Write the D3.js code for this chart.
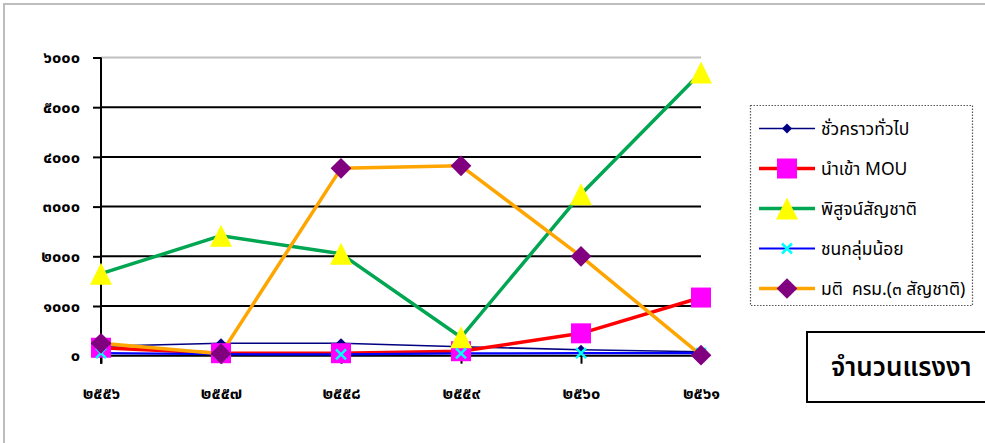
<!DOCTYPE html>
<html>
<head>
<meta charset="utf-8">
<script src="https://cdn.jsdelivr.net/npm/d3@7/dist/d3.min.js"></script>
<style>
  html, body { margin: 0; padding: 0; background: #fff; overflow: hidden; }
  svg { display: block; font-family: Tahoma, "Noto Sans Thai", "Leelawadee UI", "Noto Sans", sans-serif; }
</style>
</head>
<body>
<svg id="chart" width="985" height="443"></svg>
<script>
// ---- data ----
const categories = ["๒๕๕๖", "๒๕๕๗", "๒๕๕๘", "๒๕๕๙", "๒๕๖๐", "๒๕๖๑"];
const yTickValues = [0, 1000, 2000, 3000, 4000, 5000, 6000];
const yTickLabels = ["๐", "๑๐๐๐", "๒๐๐๐", "๓๐๐๐", "๔๐๐๐", "๕๐๐๐", "๖๐๐๐"];
const seriesNames = ["ชั่วคราวทั่วไป", "นำเข้า MOU", "พิสูจน์สัญชาติ", "ชนกลุ่มน้อย", "มติ  ครม.(๓ สัญชาติ)"];
const temporaryGeneral = [190, 250, 250, 180, 120, 80];
const importMOU = [160, 50, 50, 90, 450, 1170];
const nationalityVerified = [1650, 2415, 2050, 370, 3250, 5700];
const minorityGroups = [50, 30, 25, 45, 50, 50];
const cabinetResolution = [250, 40, 3770, 3820, 2000, 10];
const titleText = "จำนวนแรงงา";

// ---- layout ----
const svg = d3.select("#chart");
const x = d3.scalePoint().domain(categories).range([101, 701]);
const y = d3.scaleLinear().domain([0, 6000]).range([355.7, 57.5]);

// outer frame
svg.append("rect").attr("x", 4).attr("y", 4).attr("width", 1100).attr("height", 600)
  .attr("fill", "none").attr("stroke", "#bdbdbd").attr("stroke-width", 2);

// gridlines
const grid = svg.append("g");
yTickValues.forEach(v => {
  grid.append("line").attr("x1", 101).attr("x2", 701).attr("y1", y(v)).attr("y2", y(v))
    .attr("stroke", v === 6000 ? "#c0c0c0" : "#000").attr("stroke-width", 2);
});

// y axis
const yAxis = d3.axisLeft(y).tickValues(yTickValues)
  .tickFormat((d, i) => yTickLabels[i]).tickSize(8).tickPadding(13);
const gy = svg.append("g").attr("transform", "translate(101,0)").call(yAxis);
gy.select(".domain").attr("stroke", "#000").attr("stroke-width", 2).attr("d", `M0,${y(6000)}V${y(0) + 8}`);
gy.selectAll(".tick line").attr("stroke", "#000").attr("stroke-width", 2);
gy.selectAll(".tick text").attr("font-size", 16.5).attr("font-weight", "bold").attr("fill", "#000")
  .attr("font-family", "Tahoma, 'Noto Sans Thai', sans-serif");

// x axis
const xAxis = d3.axisBottom(x).tickSize(8).tickPadding(24);
const gx = svg.append("g").attr("transform", `translate(0,${y(0)})`).call(xAxis);
gx.select(".domain").remove();
gx.selectAll(".tick line").attr("stroke", "#000").attr("stroke-width", 2);
gx.selectAll(".tick text").attr("font-size", 16.5).attr("font-weight", "bold").attr("fill", "#000")
  .attr("font-family", "Tahoma, 'Noto Sans Thai', sans-serif");

// series definitions
const series = [
  { name: seriesNames[0], values: temporaryGeneral, line: "#000080", width: 1.6, marker: "diamondSmall", fill: "#000080" },
  { name: seriesNames[1], values: importMOU, line: "#ff0000", width: 3.5, marker: "square", fill: "#ff00ff" },
  { name: seriesNames[2], values: nationalityVerified, line: "#00a651", width: 3.5, marker: "triangle", fill: "#ffff00" },
  { name: seriesNames[3], values: minorityGroups, line: "#0000ff", width: 2.2, marker: "x", fill: "#00ffff" },
  { name: seriesNames[4], values: cabinetResolution, line: "#ffa500", width: 3.5, marker: "diamond", fill: "#800080" }
];

function drawMarker(g, type, cx, cy, fill) {
  if (type === "diamondSmall") {
    g.append("path").attr("d", d3.symbol(d3.symbolSquare, 50)()).attr("transform", `translate(${cx},${cy}) rotate(45)`).attr("fill", fill);
  } else if (type === "diamond") {
    g.append("path").attr("d", d3.symbol(d3.symbolSquare, 215)()).attr("transform", `translate(${cx},${cy}) rotate(45)`).attr("fill", fill);
  } else if (type === "square") {
    g.append("rect").attr("x", cx - 10).attr("y", cy - 10).attr("width", 20).attr("height", 20).attr("fill", fill);
  } else if (type === "triangle") {
    g.append("path").attr("d", `M${cx},${cy - 11}L${cx + 11},${cy + 11}L${cx - 11},${cy + 11}Z`).attr("fill", fill);
  } else if (type === "x") {
    g.append("path").attr("d", `M${cx - 5},${cy - 5}L${cx + 5},${cy + 5}M${cx + 5},${cy - 5}L${cx - 5},${cy + 5}`)
      .attr("stroke", fill).attr("stroke-width", 2.5).attr("fill", "none");
  }
}

const line = d3.line().x((d, i) => x(categories[i])).y(d => y(d));
const plot = svg.append("g");
series.forEach(s => {
  plot.append("path").datum(s.values).attr("d", line).attr("fill", "none")
    .attr("stroke", s.line).attr("stroke-width", s.width).attr("stroke-linejoin", "round");
});
series.forEach(s => {
  const g = plot.append("g");
  s.values.forEach((v, i) => drawMarker(g, s.marker, x(categories[i]), y(v), s.fill));
});

// legend
const legend = svg.append("g");
legend.append("rect").attr("x", 750.5).attr("y", 105.5).attr("width", 222).attr("height", 200)
  .attr("fill", "#fff").attr("stroke", "#555").attr("stroke-width", 1.2).attr("stroke-dasharray", "1.5,1.5");
series.forEach((s, i) => {
  const cy = 128.5 + i * 40;
  const g = legend.append("g");
  g.append("line").attr("x1", 759).attr("x2", 815).attr("y1", cy).attr("y2", cy)
    .attr("stroke", s.line).attr("stroke-width", s.width);
  drawMarker(g, s.marker, 787, cy, s.fill);
  g.append("text").attr("x", 821).attr("y", cy).attr("dy", "0.35em")
    .attr("font-size", 17.5).attr("fill", "#000").attr("xml:space", "preserve")
    .style("white-space", "pre").text(s.name);
});

// title box (extends past the window edge as in the reference)
svg.append("rect").attr("x", 807).attr("y", 332).attr("width", 300).attr("height", 70)
  .attr("fill", "#fff").attr("stroke", "#000").attr("stroke-width", 2);
svg.append("text").attr("x", 831).attr("y", 367).attr("dy", "0.35em")
  .attr("font-size", 26).attr("font-weight", 600).attr("fill", "#000").text(titleText);
</script>
</body>
</html>
